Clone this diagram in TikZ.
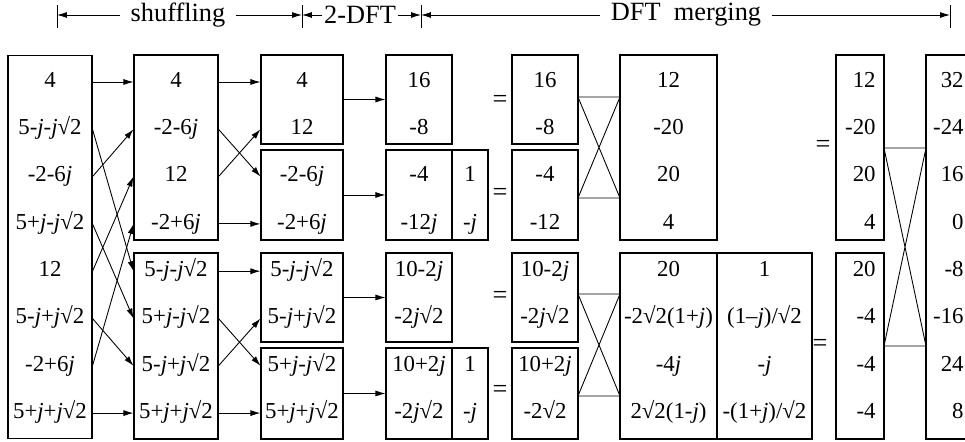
\documentclass[tikz,border=0pt]{standalone}
\usepackage{fontspec}
\setmainfont{Liberation Serif}
\usetikzlibrary{arrows.meta}
\newcommand\jm{\textit{j}}

\begin{document}
\begin{tikzpicture}[x=0.02cm, y=-0.02cm,
  box/.style 2 args={draw, line width=0.6pt, minimum width=#1*0.2mm,
                     minimum height=#2*0.2mm, inner sep=0pt},
  val/.style={inner sep=0pt, font=\fontsize{13}{15}\selectfont,
              text height=9pt, text depth=3pt},
  lab/.style={inner xsep=6pt, inner ysep=0pt, font=\fontsize{15}{18}\selectfont},
  arr/.style={-{Latex[length=2mm,width=1.2mm]}, line width=0.5pt}
]
\useasboundingbox (0,0) rectangle (965,442);

% ruler on top
\coordinate (t1) at (57,15);
\coordinate (t2) at (302,15);
\coordinate (t3) at (421,15);
\coordinate (t4) at (950,15);
\foreach \t in {1,...,4} \draw[line width=0.5pt] (t\t) ++(0,-10) -- ++(0,23);
\node[lab] (shuf) at (178,15) {shuffling};
\node[lab, inner xsep=1pt] (two) at (360,15) {2-DFT};
\node[lab] (merge) at (686,15) {DFT\ \ merging};
\draw[arr] (shuf) -- (t1);
\draw[arr] (shuf) -- (t2);
\draw[arr] (two) -- (t2);
\draw[arr] (two) -- (t3);
\draw[arr] (merge) -- (t3);
\draw[arr] (merge) -- (t4);

% boxes
\node[box={84}{384}] (in)  at (50,247) {};
\node[box={84}{185}] (sh1) at (176,147.5) {};
\node[box={84}{186}] (sh2) at (176,346) {};
\node[box={82}{89}]  (df1) at (302,99.5) {};
\node[box={82}{90}]  (df2) at (302,195) {};
\node[box={82}{89}]  (df3) at (302,297.5) {};
\node[box={82}{91}]  (df4) at (302,393.5) {};
\node[box={66}{89}]  (ou1) at (419,99.5) {};
\node[box={66}{90}]  (ou2) at (419,195) {};
\node[box={66}{89}]  (ou3) at (419,297.5) {};
\node[box={66}{91}]  (ou4) at (419,393.5) {};
\node[box={36}{90}]  (tw1) at (470,195) {};
\node[box={36}{91}]  (tw2) at (470,393.5) {};
\node[box={66}{89}]  (mg1) at (545,99.5) {};
\node[box={66}{90}]  (mg2) at (545,195) {};
\node[box={66}{89}]  (mg3) at (545,297.5) {};
\node[box={66}{91}]  (mg4) at (545,393.5) {};
\node[box={97}{185}] (bf1) at (668.5,147.5) {};
\node[box={97}{186}] (bf2) at (668.5,346) {};
\node[box={95}{186}] (tw3) at (764.5,346) {};
\node[box={48}{185}] (sm1) at (860,147.5) {};
\node[box={48}{186}] (sm2) at (860,346) {};
\draw[line width=0.6pt] (970,55) -- (926,55) -- (926,439) -- (970,439);

% values
\foreach \v [count=\i from 0] in {4, 5-\jm-\jm√2, -2-6\jm, 5+\jm-\jm√2,
    12, 5-\jm+\jm√2, -2+6\jm, 5+\jm+\jm√2}
  \node[val] (a\i) at (50,82+47.3*\i) {\v};
\foreach \v [count=\i from 0] in {4, -2-6\jm, 12, -2+6\jm,
    5-\jm-\jm√2, 5+\jm-\jm√2, 5-\jm+\jm√2, 5+\jm+\jm√2}
  \node[val] (b\i) at (176,82+47.3*\i) {\v};
\foreach \v [count=\i from 0] in {4, 12, -2-6\jm, -2+6\jm,
    5-\jm-\jm√2, 5-\jm+\jm√2, 5+\jm-\jm√2, 5+\jm+\jm√2}
  \node[val] (c\i) at (302,82+47.3*\i) {\v};
\foreach \v [count=\i from 0] in {16, -8, -4, -12\jm, 10-2\jm, -2\jm√2, 10+2\jm, -2\jm√2}
  \node[val] (d\i) at (419,82+47.3*\i) {\v};
\foreach \i/\v in {2/1, 3/-\jm, 6/1, 7/-\jm}
  \node[val] (e\i) at (470,82+47.3*\i) {\v};
\foreach \v [count=\i from 0] in {16, -8, -4, -12, 10-2\jm, -2\jm√2, 10+2\jm, -2√2}
  \node[val] (f\i) at (545,82+47.3*\i) {\v};
\foreach \v [count=\i from 0] in {12, -20, 20, 4, 20, -2√2(1+\jm), -4\jm, 2√2(1-\jm)}
  \node[val] (g\i) at (668.5,82+47.3*\i) {\v};
\foreach \i/\v in {4/1, 5/{(1\textendash\jm)/√2}, 6/-\jm, 7/{-(1+\jm)/√2}}
  \node[val] (h\i) at (764.5,82+47.3*\i) {\v};
\foreach \v [count=\i from 0] in {12, -20, 20, 4, 20, -4, -4, -4}
  \node[val, anchor=east] (k\i) at (876,82+47.3*\i) {\v};
\foreach \v [count=\i from 0] in {32, -24, 16, 0, -8, -16, 24, 8}
  \node[val, anchor=east] (y\i) at (964,82+47.3*\i) {\v};

% equal signs
\foreach \n/\x/\y in {q1/500/102, q2/500/195, q3/500/298, q4/500/392, q5/823/147, q6/820/346}
  \node[val, font=\fontsize{15}{18}\selectfont] (\n) at (\x,\y) {=};

% shuffling arrows
\foreach \s/\t in {0/0,1/4,2/1,3/5,4/2,5/6,6/3,7/7}
  \draw[arr] (in.east |- a\s) -- (sh1.west |- b\t);
\foreach \s/\t in {0/0,1/2,2/1,3/3,4/4,5/6,6/5,7/7}
  \draw[arr] (sh1.east |- b\s) -- (df1.west |- c\t);
% 2-DFT arrows
\foreach \k in {1,...,4}
  \draw[arr] (df\k) -- (ou\k);

% butterflies
\draw[line width=0.5pt] (578,97) -- (620,97) -- (578,198) -- (620,198) -- cycle;
\draw[line width=0.5pt] (578,294) -- (620,294) -- (578,396) -- (620,396) -- cycle;
\draw[line width=0.5pt] (884,148) -- (926,148) -- (884,346) -- (926,346) -- cycle;
\end{tikzpicture}
\end{document}
